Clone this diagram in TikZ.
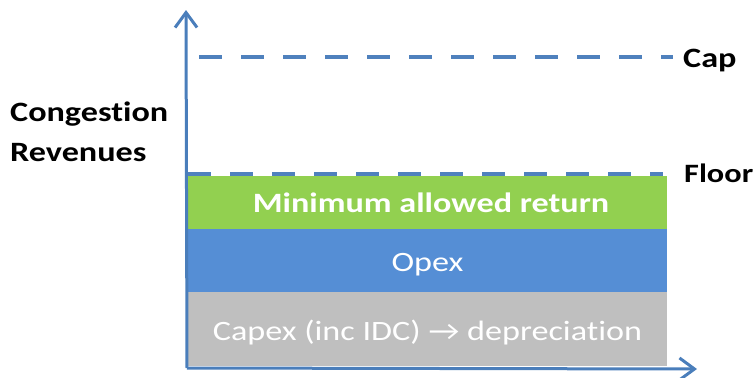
\documentclass[tikz,border=0pt]{standalone}
\usepackage{fontspec}
\setmainfont{Carlito}[FakeStretch=1.22,Ligatures=NoCommon]
\usetikzlibrary{arrows.meta}
\definecolor{axisblue}{RGB}{74,126,187}
\definecolor{dashblue}{RGB}{79,129,189}
\definecolor{retgreen}{RGB}{146,208,80}
\definecolor{opexblue}{RGB}{85,142,213}
\definecolor{capexgray}{RGB}{191,191,191}
\tikzset{
  axisline/.style={draw=axisblue, line width=3pt, -{Straight Barb[length=15pt,width=22pt,line width=3pt]}},
  limitline/.style={draw=dashblue, line width=4pt, dash pattern=on 23pt off 19pt},
  layer/.style={inner sep=0pt, minimum width=479pt, draw=none},
  lbl/.style={inner sep=0pt, font=\fontsize{28}{32}\selectfont\bfseries},
  layertext/.style={inner sep=0pt, text=white, font=\fontsize{28}{32}\selectfont},
}
\begin{document}
\begin{tikzpicture}[x=1pt,y=-1pt]
\useasboundingbox (0,0) rectangle (756,378);
% layers
\node[layer, fill=capexgray, minimum height=74pt] (capex) at (427.5,329) {};
\node[layer, fill=opexblue, minimum height=63pt] (opex) at (427.5,260.5) {};
\node[layer, fill=retgreen, minimum height=53pt] (ret) at (427.5,202.5) {};
\node[layertext, anchor=base] (capext) at (427.5,340) {Capex (inc IDC) → depreciation};
\node[layertext, anchor=base] (opext) at (427.5,271) {Opex};
\node[layertext, anchor=base, font=\fontsize{28}{32}\selectfont\bfseries] (rett) at (431,212) {Minimum allowed return};
% limits
\coordinate (caps) at (199,57);
\coordinate (cape) at (673,57);
\coordinate (flos) at (188,174);
\coordinate (floe) at (663,174);
\draw[limitline] (caps) -- (cape);
\draw[limitline] (flos) -- (floe);
% axes
\coordinate (origin) at (187,368);
\coordinate (ytip) at (186,10);
\coordinate (xtip) at (697,369);
\draw[axisline] (origin) -- (ytip);
\draw[axisline] (origin) -- (xtip);
% labels
\node[lbl, anchor=base west] (cap) at (683,67) {Cap};
\node[lbl, anchor=base west, font=\fontsize{26.5}{32}\selectfont\bfseries] (floor) at (684,182) {Floor};
\node[lbl, anchor=base west] (cr1) at (10,121) {Congestion};
\node[lbl, anchor=base west] (cr2) at (10,161) {Revenues};
\end{tikzpicture}
\end{document}
